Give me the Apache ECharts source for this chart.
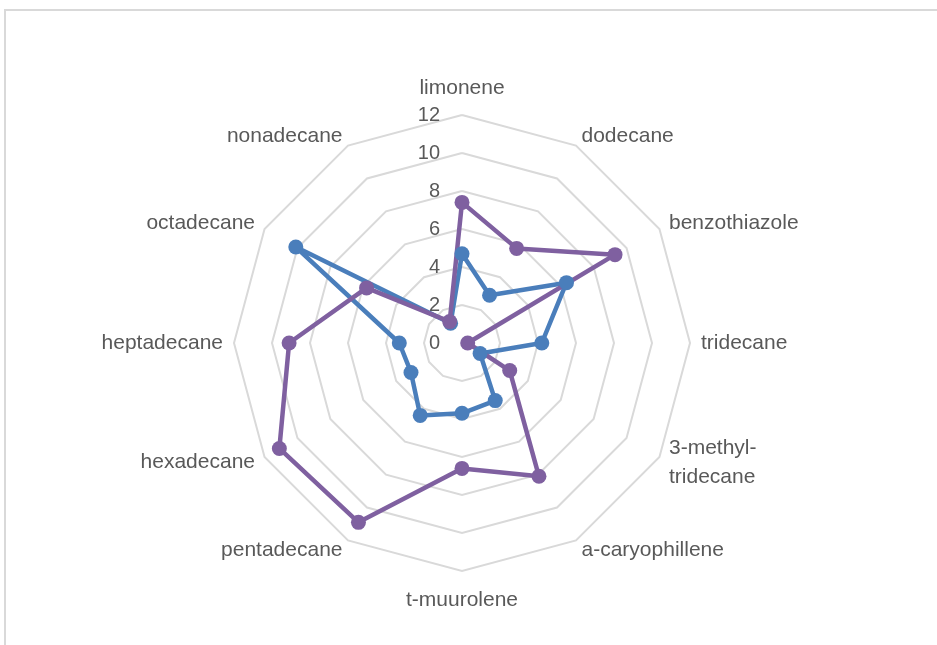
<!DOCTYPE html>
<html>
<head>
<meta charset="utf-8">
<script src="https://cdn.jsdelivr.net/npm/echarts@6/dist/echarts.min.js"></script>
<style>
	html, body { margin: 0; padding: 0; background: #fff; }
	#radar { width: 937px; height: 645px; position: absolute; left: 0; top: 0; }
	.frame {
		position: absolute; left: 4px; top: 9px; width: 1000px; height: 700px;
		border-left: 2px solid #d9d9d9; border-top: 2px solid #d9d9d9;
		pointer-events: none;
	}
</style>
</head>
<body>
<div id="radar"></div>
<div class="frame"></div>
<script>
	// compounds, clockwise from the top
	var compounds = ['limonene', 'dodecane', 'benzothiazole', 'tridecane', '3-methyl-\ntridecane',
		'a-caryophillene', 't-muurolene', 'pentadecane', 'hexadecane', 'heptadecane', 'octadecane', 'nonadecane']
	var series1 = [4.7, 2.9, 6.35, 4.2, 1.1, 3.5, 3.7, 4.4, 3.1, 3.3, 10.1, 1.2]
	var series2 = [7.4, 5.75, 9.3, 0.3, 2.9, 8.1, 6.6, 10.9, 11.1, 9.1, 5.8, 1.3]
	var axisMin = 0, axisMax = 12, axisSplit = 6

	// echarts radar runs counter-clockwise, so flip everything after the first axis
	function clockwise(arr) {
		return [arr[0]].concat(arr.slice(1).reverse())
	}

	var textColor = '#595959'
	var font = '"Liberation Sans", Arial, sans-serif'

	var indicator = clockwise(compounds).map(function (n, i) {
		var ind = { name: n, min: axisMin, max: axisMax }
		if (i === 0) {
			// only the top axis carries the 0..12 labels
			ind.axisLabel = { show: true, color: textColor, fontSize: 20, fontFamily: font, margin: 22 }
			ind.nameGap = 12
		}
		if (n === 't-muurolene') ind.nameGap = 15
		return ind
	})

	var chart = echarts.init(document.getElementById('radar'))
	chart.setOption({
		animation: false,
		radar: {
			center: [462, 343],
			radius: 228,
			startAngle: 90,
			shape: 'polygon',
			splitNumber: axisSplit,
			nameGap: 11,
			axisName: { color: textColor, fontSize: 21, fontFamily: font, lineHeight: 29 },
			axisLine: { show: false },
			axisTick: { show: false },
			axisLabel: { show: false },
			splitLine: { lineStyle: { color: '#d9d9d9', width: 2 } },
			splitArea: { show: false },
			indicator: indicator
		},
		series: [{
			type: 'radar',
			symbol: 'circle',
			symbolSize: 15,
			data: [
				{
					name: 'Series1',
					value: clockwise(series1),
					itemStyle: { color: '#4a7ebb' },
					lineStyle: { color: '#4a7ebb', width: 4.5 }
				},
				{
					name: 'Series2',
					value: clockwise(series2),
					itemStyle: { color: '#7f60a0' },
					lineStyle: { color: '#7f60a0', width: 4.5 }
				}
			]
		}]
	})
</script>
</body>
</html>
